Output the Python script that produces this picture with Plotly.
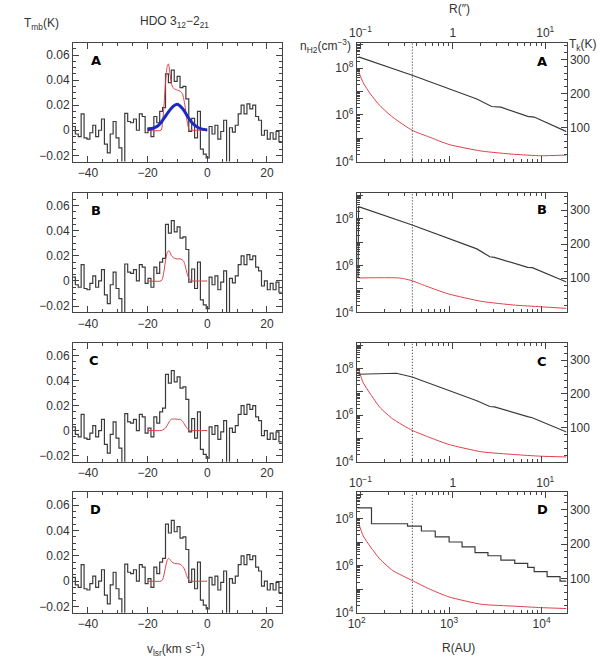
import numpy as np
import plotly.graph_objects as go

# ---- observed HDO spectrum (same in all four left panels) ----
VEL_START = -45.2      # km/s, left edge of first channel
CHAN_WIDTH = 0.975     # km/s
spec_t = [0.003, -0.003, -0.005, 0.013, -0.006, -0.007, -0.002, 0.004, -0.005, 0.0,
          0.009, -0.011, -0.018, -0.003, 0.007, -0.006, -0.014, -0.03, 0.0135, 0.007,
          0.006, 0.009, 0.0, 0.013, 0.011, -0.002, 0.002, -0.005, 0.011, 0.006,
          0.015, 0.018, 0.045, 0.038, 0.048, 0.039, 0.043, 0.034, 0.035, 0.025,
          -0.001, 0.0095, -0.006, 0.015, -0.015, -0.019, -0.022, 0.003, -0.003, 0.004,
          -0.007, -0.001, 0.008, -0.03, 0.002, -0.0015, 0.004, 0.013, 0.02, 0.013,
          0.021, 0.017, 0.020, 0.011, 0.008, -0.004, 0.0, -0.007, -0.002, -0.007,
          -0.001, -0.009]

# ---- model line profiles ----
modelA_v = [-20, -15.5, -15, -14.5, -14, -13.5, -13, -12.5, -12, -11.5, -11, -10, -9, -8.3, -7.5, -7, -6.5, -6, -5, 0]
modelA_t = [0, 0, 0.006, 0.02, 0.038, 0.05, 0.053, 0.045, 0.037, 0.034, 0.033, 0.032, 0.031, 0.029, 0.02, 0.011, 0.004, 0.0, 0.0, 0]
gaussA_v = [-20, -16.5, -13.8, -11.6, -10.1, -8.3, -6.6, -5, -2.8, 0]
gaussA_t = [0.0005, 0.0036, 0.012, 0.0187, 0.0208, 0.0174, 0.011, 0.0057, 0.0018, 0.0003]
modelB_v = [-20, -15.5, -15, -14.5, -14, -13.5, -13, -12.5, -12, -11, -10, -9, -8, -7.5, -7, -6.5, -6, -5.5, -5, 0]
modelB_t = [0, 0, 0.002, 0.008, 0.016, 0.022, 0.024, 0.023, 0.020, 0.018, 0.0175, 0.0175, 0.016, 0.013, 0.008, 0.004, 0.0015, 0.0003, 0, 0]
modelC_v = [-20, -15.5, -15, -14, -13, -12.5, -12, -11, -10, -9, -8.5, -8, -7.5, -7, -6.5, -6, -5, 0]
modelC_t = [0, 0, 0.0003, 0.002, 0.006, 0.008, 0.009, 0.0093, 0.009, 0.0088, 0.008, 0.0065, 0.0045, 0.0025, 0.001, 0.0002, 0, 0]
modelD_v = [-20, -15.5, -15, -14.5, -14, -13.5, -13, -12.5, -12, -11, -10, -9, -8, -7.5, -7, -6.5, -6, -5.5, 0]
modelD_t = [0, 0, 0.001, 0.005, 0.011, 0.016, 0.018, 0.017, 0.0155, 0.014, 0.0138, 0.0132, 0.011, 0.0085, 0.005, 0.002, 0.0005, 0, 0]

# ---- physical structure (log10 R in AU) ----
tkA_logr = [2.02, 2.6, 3.30, 3.42, 3.46, 3.56, 3.85, 3.92, 4.27]
tkA = [308, 254, 184, 166, 162, 160, 133, 131, 88]
tkB_logr = [2.015, 2.02, 2.6, 3.30, 3.44, 3.49, 3.85, 3.90, 4.27]
tkB = [104, 310, 256, 186, 163, 161, 132, 131, 89]
tkC_logr = [2.02, 2.25, 2.43, 2.6, 3.30, 3.44, 3.49, 3.85, 3.90, 4.27]
tkC = [258, 259, 261, 250, 180, 163, 162, 133, 130, 88]
tkD_edges = [2.01, 2.16, 2.55, 2.70, 2.85, 3.00, 3.14, 3.28, 3.42, 3.56, 3.71, 3.85, 3.92, 4.06, 4.20, 4.27]
tkD = [305, 259, 252, 238, 221, 206, 192, 175, 166, 153, 144, 132, 120, 105, 92]

nh_logr = [2.02, 2.07, 2.15, 2.25, 2.39, 2.6, 2.78, 3.0, 3.35, 3.71, 3.99, 4.27]
nhA = [7.87, 7.38, 6.89, 6.40, 5.90, 5.34, 5.06, 4.73, 4.45, 4.31, 4.25, 4.28]
nhC = [7.97, 7.40, 6.90, 6.34, 5.84, 5.35, 5.06, 4.74, 4.43, 4.31, 4.24, 4.21]
nhD = [7.81, 7.26, 6.79, 6.28, 5.79, 5.37, 5.02, 4.67, 4.36, 4.28, 4.22, 4.18]
nhB_logr = [2.02, 2.2, 2.35, 2.46, 2.53, 2.6, 2.7, 2.87, 3.0, 3.35, 3.71, 3.99, 4.27]
nhB = [5.47, 5.48, 5.48, 5.47, 5.42, 5.35, 5.2, 4.95, 4.78, 4.47, 4.31, 4.24, 4.17]

R_DOT = 400            # AU, dotted line
LOG_DIST = 3.04        # R('') = R(AU) / distance
LOGR_RANGE = [2, 4.27]
LOGN_RANGE = [4, 9.1]
TK_RANGE = [0, 350]
letters = ["A", "B", "C", "D"]

W, H = 600, 667
XL = [65 / W, 277 / W]
XR = [353 / W, 566 / W]
rows_px = [(43, 163.3), (195, 315.7), (346.7, 466.7), (497.7, 619.3)]
rows = [[1 - b / H, 1 - t / H] for t, b in rows_px]

BLACK = "#3a3a3a"
RED = "#e0404a"
BLUE = "#1a2bbf"
FONT = dict(family="Liberation Sans, Arial, sans-serif", size=12, color="#333")

fig = go.Figure()

# left column: spectra
edges = VEL_START + CHAN_WIDTH * np.arange(len(spec_t) + 1)
spec_y = spec_t + [spec_t[-1]]
models = [(modelA_v, modelA_t), (modelB_v, modelB_t), (modelC_v, modelC_t), (modelD_v, modelD_t)]
for i in range(4):
    ax = str(i + 1)
    fig.add_trace(go.Scatter(x=edges, y=spec_y, mode="lines", line=dict(color=BLACK, width=1.2, shape="hv"),
                             xaxis="x" + ax, yaxis="y" + ax, showlegend=False))
    mv, mt = models[i]
    fig.add_trace(go.Scatter(x=mv, y=mt, mode="lines", line=dict(color=RED, width=1, shape="spline", smoothing=0.6),
                             xaxis="x" + ax, yaxis="y" + ax, showlegend=False))
    if i == 0:
        fig.add_trace(go.Scatter(x=gaussA_v, y=gaussA_t, mode="lines", line=dict(color=BLUE, width=3, shape="spline"),
                                 xaxis="x1", yaxis="y1", showlegend=False))

# right column: structure
tk_sets = [(tkA_logr, tkA), (tkB_logr, tkB), (tkC_logr, tkC)]
nh_sets = [(nh_logr, nhA), (nhB_logr, nhB), (nh_logr, nhC), (nh_logr, nhD)]
for i in range(4):
    xa = "x" + str(i + 5)
    ya = "y" + str(i + 5)
    ta = "y" + str(i + 9)
    lr, ln = nh_sets[i]
    fig.add_trace(go.Scatter(x=10 ** np.array(lr), y=10 ** np.array(ln), mode="lines",
                             line=dict(color=RED, width=1, shape="spline", smoothing=0.5),
                             xaxis=xa, yaxis=ya, showlegend=False))
    if i < 3:
        tr, tv = tk_sets[i]
        fig.add_trace(go.Scatter(x=10 ** np.array(tr), y=tv, mode="lines", line=dict(color=BLACK, width=1.2),
                                 xaxis=xa, yaxis=ta, showlegend=False))
    else:
        fig.add_trace(go.Scatter(x=10 ** np.array(tkD_edges), y=tkD + [tkD[-1]], mode="lines",
                                 line=dict(color=BLACK, width=1.2, shape="hv"),
                                 xaxis=xa, yaxis=ta, showlegend=False))
    fig.add_trace(go.Scatter(x=[R_DOT, R_DOT], y=[10 ** LOGN_RANGE[0], 10 ** LOGN_RANGE[1]], mode="lines",
                             line=dict(color="#222", width=1, dash="1px,2px"),
                             xaxis=xa, yaxis=ya, showlegend=False))
    # top axis in arcsec
    fig.add_trace(go.Scatter(x=[], y=[], xaxis="x" + str(i + 9), yaxis=ya, showlegend=False))


def log_minor(lo, hi):
    return [k * 10.0 ** e for e in range(lo, hi) for k in range(2, 10)]


common = dict(showline=True, linecolor="#444", linewidth=1, ticks="inside", tickcolor="#444",
              ticklen=6, tickwidth=1, showgrid=False, zeroline=False, tickfont=FONT)
minor_lin = dict(ticks="inside", ticklen=3, tickcolor="#444", showgrid=False)

layout = dict(width=W, height=H, margin=dict(l=0, r=0, t=0, b=0),
              plot_bgcolor="white", paper_bgcolor="white", showlegend=False)

for i in range(4):
    n = i + 1
    layout["xaxis%d" % n] = dict(common, domain=XL, anchor="y%d" % n, range=[-45, 25], tick0=0, dtick=20,
                                 mirror="ticks", minor=dict(minor_lin, dtick=5, tick0=0))
    layout["yaxis%d" % n] = dict(common, domain=rows[i], anchor="x%d" % n, range=[-0.025, 0.07], tick0=0,
                                 dtick=0.02, mirror="ticks", minor=dict(minor_lin, dtick=0.005, tick0=0))
    m = i + 5
    layout["xaxis%d" % m] = dict(common, domain=XR, anchor="y%d" % m, type="log", range=LOGR_RANGE,
                                 tickvals=[1e2, 1e3, 1e4],
                                 ticktext=["10<sup>2</sup>", "10<sup>3</sup>", "10<sup>4</sup>"],
                                 showticklabels=(i == 3),
                                 minor=dict(minor_lin, tickvals=log_minor(2, 5)))
    layout["yaxis%d" % m] = dict(common, domain=rows[i], anchor="x%d" % m, type="log", range=LOGN_RANGE,
                                 tickvals=[1e4, 1e5, 1e6, 1e7, 1e8, 1e9],
                                 ticktext=["10<sup>4</sup>", "", "10<sup>6</sup>", "", "10<sup>8</sup>", ""],
                                 minor=dict(minor_lin, tickvals=log_minor(4, 10)))
    k = i + 9
    layout["yaxis%d" % k] = dict(common, anchor="x%d" % m, overlaying="y%d" % m, side="right",
                                 range=TK_RANGE, tickvals=[100, 200, 300],
                                 minor=dict(minor_lin, dtick=20, tick0=0))
    layout["xaxis%d" % k] = dict(common, anchor="y%d" % m, overlaying="x%d" % m, side="top", type="log",
                                 range=[LOGR_RANGE[0] - LOG_DIST, LOGR_RANGE[1] - LOG_DIST],
                                 tickvals=[0.1, 1, 10],
                                 ticktext=["10<sup>\u22121</sup>", "1", "10<sup>1</sup>"],
                                 showticklabels=(i in (0, 3)),
                                 minor=dict(minor_lin, tickvals=log_minor(-2, 2)))


def ann(text, px, py, size=12, bold=False, xanchor="center"):
    f = dict(FONT, size=size)
    if bold:
        f = dict(f, family="DejaVu Sans, sans-serif", color="black", weight="bold")
    return dict(text=text, x=px / W, y=1 - py / H, xref="paper", yref="paper", showarrow=False,
                xanchor=xanchor, yanchor="middle", font=f)


annotations = [
    ann("HDO 3<sub>12</sub>\u22122<sub>21</sub>", 168, 22),
    ann("T<sub>mb</sub>(K)", 33, 24),
    ann("R(\u2033)", 457, 9),
    ann("n<sub>H2</sub>(cm<sup>\u22123</sup>)", 349, 46, xanchor="right"),
    ann("T<sub>k</sub>(K)", 583, 45),
    ann("v<sub>lsr</sub>(km s<sup>\u22121</sup>)", 170, 656),
    ann("R(AU)", 456, 655),
]
letter_pos = [((88, 61), (541, 62)), ((88, 213), (541, 212)), ((86, 364), (541, 365)), ((88, 515), (542, 515))]
for letter, (lp, rp) in zip(letters, letter_pos):
    annotations.append(ann(letter, lp[0], lp[1], size=13, bold=True))
    annotations.append(ann(letter, rp[0], rp[1], size=13, bold=True))
layout["annotations"] = annotations

fig.update_layout(**layout)
# the page's default body margin would push the 600x667 figure off the window
fig.write_html("out.html", config={"displayModeBar": False},
               post_script="document.body.style.margin='0';")
